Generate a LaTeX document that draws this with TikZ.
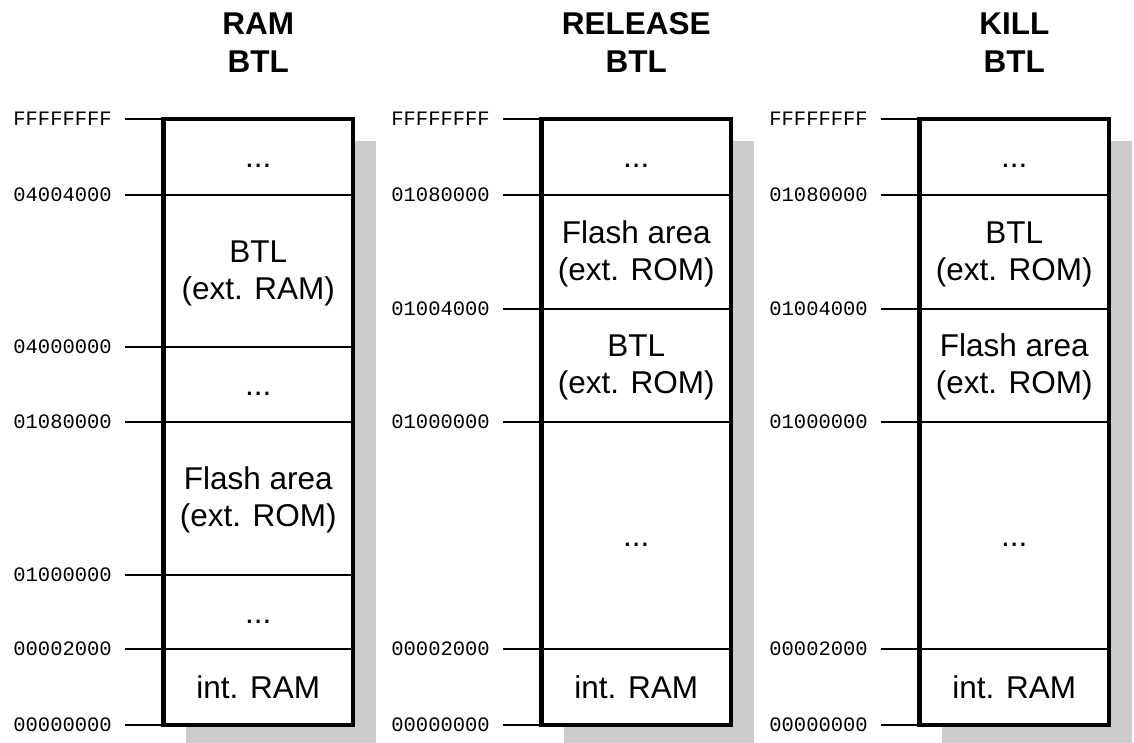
\documentclass[tikz,border=0pt]{standalone}
\usepackage{fontspec}
\setmainfont{Liberation Sans}
\newfontfamily\addrfamily{Liberation Mono}
\definecolor{shadowgray}{RGB}{204,204,204}
\tikzset{
  memmap/.style={line width=4.7pt},
  bound/.style={line width=1.8pt},
  shade/.style={fill=shadowgray},
  addr/.style={anchor=east,inner sep=0pt,font=\addrfamily\fontsize{20.5}{22}\selectfont},
  cell/.style={anchor=base,inner sep=0pt,align=center,font=\fontsize{31.5}{37}\selectfont},
  head/.style={anchor=base,inner sep=0pt,font=\bfseries\fontsize{31.5}{38}\selectfont}
}
\begin{document}
\begin{tikzpicture}[x=1pt,y=-1pt]
\useasboundingbox (0,0) rectangle (1134,743);
% RAM BTL
\node[head] (ha1) at (258.25,34.3) {RAM};
\node[head] (ha2) at (258.25,72.7) {BTL};
\fill[shade] (186,141) rectangle (375.5,770);
\fill[white] (163.5,119) rectangle (353,725);
\foreach \y/\a [count=\i] in {119/FFFFFFFF,195/04004000,347/04000000,422/01080000,575/01000000,649/00002000,725/00000000}{
  \node[addr] (aa\i) at (112,\y) {\a};
  \coordinate (la\i) at (163.5,\y);
  \coordinate (ra\i) at (353,\y);
  \draw[bound] ([xshift=13pt]aa\i.east) -- (ra\i);
}
\draw[memmap] (la1) rectangle (ra7);
\node[cell] (ca1) at (258.25,168) {...};
\node[cell] (ca2) at (258.25,299) {BTL\\(ext. RAM)};
\node[cell] (ca3) at (258.25,395.5) {...};
\node[cell] (ca4) at (258.25,526.5) {Flash area\\(ext. ROM)};
\node[cell] (ca5) at (258.25,623) {...};
\node[cell] (ca6) at (258.25,698) {int. RAM};
% RELEASE BTL
\node[head] (hb1) at (636.25,34.3) {RELEASE};
\node[head] (hb2) at (636.25,72.7) {BTL};
\fill[shade] (564,141) rectangle (753.5,770);
\fill[white] (541.5,119) rectangle (731,725);
\foreach \y/\a [count=\i] in {119/FFFFFFFF,195/01080000,309/01004000,422/01000000,649/00002000,725/00000000}{
  \node[addr] (ab\i) at (490,\y) {\a};
  \coordinate (lb\i) at (541.5,\y);
  \coordinate (rb\i) at (731,\y);
  \draw[bound] ([xshift=13pt]ab\i.east) -- (rb\i);
}
\draw[memmap] (lb1) rectangle (rb6);
\node[cell] (cb1) at (636.25,168) {...};
\node[cell] (cb2) at (636.25,280) {Flash area\\(ext. ROM)};
\node[cell] (cb3) at (636.25,393.5) {BTL\\(ext. ROM)};
\node[cell] (cb4) at (636.25,546.5) {...};
\node[cell] (cb5) at (636.25,698) {int. RAM};
% KILL BTL
\node[head] (hc1) at (1014.25,34.3) {KILL};
\node[head] (hc2) at (1014.25,72.7) {BTL};
\fill[shade] (942,141) rectangle (1131.5,770);
\fill[white] (919.5,119) rectangle (1109,725);
\foreach \y/\a [count=\i] in {119/FFFFFFFF,195/01080000,309/01004000,422/01000000,649/00002000,725/00000000}{
  \node[addr] (ac\i) at (868,\y) {\a};
  \coordinate (lc\i) at (919.5,\y);
  \coordinate (rc\i) at (1109,\y);
  \draw[bound] ([xshift=13pt]ac\i.east) -- (rc\i);
}
\draw[memmap] (lc1) rectangle (rc6);
\node[cell] (cc1) at (1014.25,168) {...};
\node[cell] (cc2) at (1014.25,280) {BTL\\(ext. ROM)};
\node[cell] (cc3) at (1014.25,393.5) {Flash area\\(ext. ROM)};
\node[cell] (cc4) at (1014.25,546.5) {...};
\node[cell] (cc5) at (1014.25,698) {int. RAM};
\end{tikzpicture}
\end{document}
